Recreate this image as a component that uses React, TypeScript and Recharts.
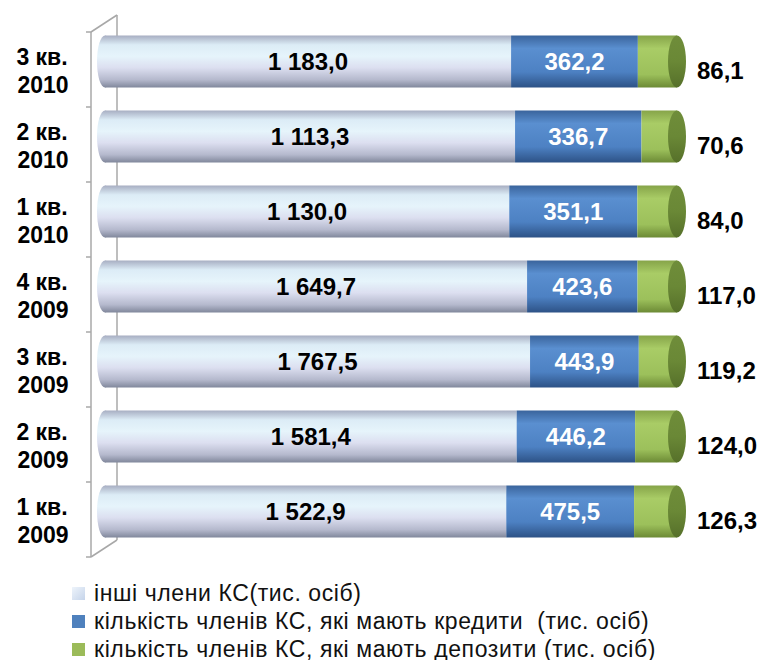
import React from 'react';
import { BarChart, Bar, XAxis, YAxis, LabelList } from 'recharts';

const quarters = ['3 кв.', '2 кв.', '1 кв.', '4 кв.', '3 кв.', '2 кв.', '1 кв.'];
const years = ['2010', '2010', '2010', '2009', '2009', '2009', '2009'];
const others = [1183.0, 1113.3, 1130.0, 1649.7, 1767.5, 1581.4, 1522.9];
const credits = [362.2, 336.7, 351.1, 423.6, 443.9, 446.2, 475.5];
const deposits = [86.1, 70.6, 84.0, 117.0, 119.2, 124.0, 126.3];
const seriesNames = [
	'інші члени КС(тис. осіб)',
	'кількість членів КС, які мають кредити  (тис. осіб)',
	'кількість членів КС, які мають депозити (тис. осіб)',
];

const data = quarters.map((q, i) => ({
	cat: `${q}|${years[i]}`,
	others: others[i],
	credits: credits[i],
	deposits: deposits[i],
}));

const W = 768;
const H = 660;
const margin = { top: 23.5, right: 100, bottom: 111.5, left: 0 };
const axisWidth = 97;
const font = '"Liberation Sans", Arial, sans-serif';

function fmt(v: number) {
	const [int, dec] = v.toFixed(1).split('.');
	const withSpace = int.replace(/\B(?=(\d{3})+(?!\d))/g, ' ');
	return `${withSpace},${dec}`;
}

function pick(p: any, arr: number[]) {
	if (typeof p.value === 'number') return p.value;
	return arr[p.index];
}

function CategoryTick(props: any) {
	const { y, payload } = props;
	const [q, yr] = String(payload.value).split('|');
	const cx = 42;
	return (
		<text textAnchor="middle" fontFamily={font} fontWeight="bold" fontSize={23} fill="#000">
			<tspan x={cx} y={y + 4}>{q}</tspan>
			<tspan x={cx + 1} y={y + 32}>{yr}</tspan>
		</text>
	);
}

function LightShape(props: any) {
	const { x, y, width, height } = props;
	const r = 8;
	return (
		<g>
			<ellipse cx={x + r} cy={y + height / 2} rx={r} ry={height / 2} fill="url(#gLight)" />
			<rect x={x + r} y={y} width={width - r} height={height} fill="url(#gLight)" />
		</g>
	);
}

function BlueShape(props: any) {
	const { x, y, width, height } = props;
	return <rect x={x} y={y} width={width} height={height} fill="url(#gBlue)" />;
}

function GreenShape(props: any) {
	const { x, y, width, height } = props;
	const r = 9;
	return (
		<g>
			<rect x={x} y={y} width={width + r} height={height} fill="url(#gGreen)" />
			<ellipse cx={x + width + r} cy={y + height / 2} rx={r} ry={height / 2} fill="url(#gCap)" />
		</g>
	);
}

function Frame() {
	// 3D wall lines behind the plot
	const n = quarters.length;
	const plotH = H - margin.top - margin.bottom;
	const step = plotH / n;
	const front = { x: 91, top: margin.top + 8.5 };
	const back = { x: 117, top: margin.top - 8.5 };
	const ticks = Array.from({ length: n + 1 }, (_, i) => front.top + i * step);
	return (
		<svg width={W} height={H} style={{ position: 'absolute', left: 0, top: 0 }}>
			<g stroke="#a8a8a8" strokeWidth={1.5} fill="none">
				<line x1={front.x} y1={front.top} x2={front.x} y2={front.top + plotH} />
				<line x1={back.x} y1={back.top} x2={back.x} y2={back.top + plotH} />
				<line x1={front.x} y1={front.top} x2={back.x} y2={back.top} />
				<line x1={front.x} y1={front.top + plotH} x2={back.x} y2={back.top + plotH} />
				{ticks.map((t, i) => (
					<line key={i} x1={front.x - 5} y1={t} x2={front.x} y2={t} />
				))}
			</g>
		</svg>
	);
}

const legendColors = ['url(#lgLight)', '#4f81bd', '#9bbb59'];

export default function App() {
	return (
		<div style={{ position: 'absolute', left: 0, top: 0, width: W, height: H, background: '#fff' }}>
			<Frame />
			<div style={{ position: 'absolute', left: 0, top: 0 }}>
				<BarChart
					width={W}
					height={H}
					data={data}
					layout="vertical"
					stackOffset="expand"
					margin={margin}
					barSize={52}
				>
					<defs>
						<linearGradient id="gLight" x1="0" y1="0" x2="0" y2="1">
							<stop offset="0%" stopColor="#a7aec2" />
							<stop offset="18%" stopColor="#dcecf6" />
							<stop offset="40%" stopColor="#e6f4fb" />
							<stop offset="62%" stopColor="#dcdff0" />
							<stop offset="85%" stopColor="#b5b9cd" />
							<stop offset="100%" stopColor="#80879b" />
						</linearGradient>
						<linearGradient id="gBlue" x1="0" y1="0" x2="0" y2="1">
							<stop offset="0%" stopColor="#3a649c" />
							<stop offset="25%" stopColor="#5a8fd0" />
							<stop offset="70%" stopColor="#4d81c3" />
							<stop offset="100%" stopColor="#2d5286" />
						</linearGradient>
						<linearGradient id="gGreen" x1="0" y1="0" x2="0" y2="1">
							<stop offset="0%" stopColor="#86a449" />
							<stop offset="25%" stopColor="#a9cc66" />
							<stop offset="75%" stopColor="#9cc05b" />
							<stop offset="100%" stopColor="#6c8a35" />
						</linearGradient>
						<linearGradient id="gCap" x1="0" y1="0" x2="0" y2="1">
							<stop offset="0%" stopColor="#6f8d3a" />
							<stop offset="50%" stopColor="#6a8836" />
							<stop offset="100%" stopColor="#56702a" />
						</linearGradient>
					</defs>
					<XAxis type="number" hide domain={[0, 1]} />
					<YAxis
						type="category"
						dataKey="cat"
						width={axisWidth}
						axisLine={false}
						tickLine={false}
						tick={<CategoryTick />}
						interval={0}
					/>
					<Bar dataKey="others" stackId="a" shape={<LightShape />} isAnimationActive={false}>
						<LabelList
							dataKey="others"
							content={(p: any) => (
								<text
									x={p.x + p.width / 2 + 4}
									y={p.y + p.height / 2}
									dy={8}
									textAnchor="middle"
									fontFamily={font}
									fontWeight="bold"
									fontSize={24}
									fill="#000"
								>
									{fmt(pick(p, others))}
								</text>
							)}
						/>
					</Bar>
					<Bar dataKey="credits" stackId="a" shape={<BlueShape />} isAnimationActive={false}>
						<LabelList
							dataKey="credits"
							content={(p: any) => (
								<text
									x={p.x + p.width / 2}
									y={p.y + p.height / 2}
									dy={8}
									textAnchor="middle"
									fontFamily={font}
									fontWeight="bold"
									fontSize={24}
									fill="#fff"
								>
									{fmt(pick(p, credits))}
								</text>
							)}
						/>
					</Bar>
					<Bar dataKey="deposits" stackId="a" shape={<GreenShape />} isAnimationActive={false}>
						<LabelList
							dataKey="deposits"
							content={(p: any) => (
								<text
									x={p.x + p.width + 29}
									y={p.y + p.height / 2 + 9}
									dy={8}
									textAnchor="start"
									fontFamily={font}
									fontWeight="bold"
									fontSize={24}
									fill="#000"
								>
									{fmt(pick(p, deposits))}
								</text>
							)}
						/>
					</Bar>
				</BarChart>
			</div>
			<svg width={0} height={0} style={{ position: 'absolute' }}>
				<defs>
					<linearGradient id="lgLight" x1="0" y1="0" x2="1" y2="1">
						<stop offset="0%" stopColor="#eef4fb" />
						<stop offset="100%" stopColor="#c5d4ea" />
					</linearGradient>
				</defs>
			</svg>
			<div
				style={{
					position: 'absolute',
					left: 72,
					top: 579,
					fontFamily: font,
					fontSize: 23,
					letterSpacing: 0.6,
					color: '#111',
				}}
			>
				{seriesNames.map((name, i) => (
					<div key={i} style={{ display: 'flex', alignItems: 'center', height: 28, whiteSpace: 'pre' }}>
						<svg width={13} height={13} style={{ marginRight: 9 }}>
							<rect width={13} height={13} fill={legendColors[i]} />
						</svg>
						<span>{name}</span>
					</div>
				))}
			</div>
		</div>
	);
}
